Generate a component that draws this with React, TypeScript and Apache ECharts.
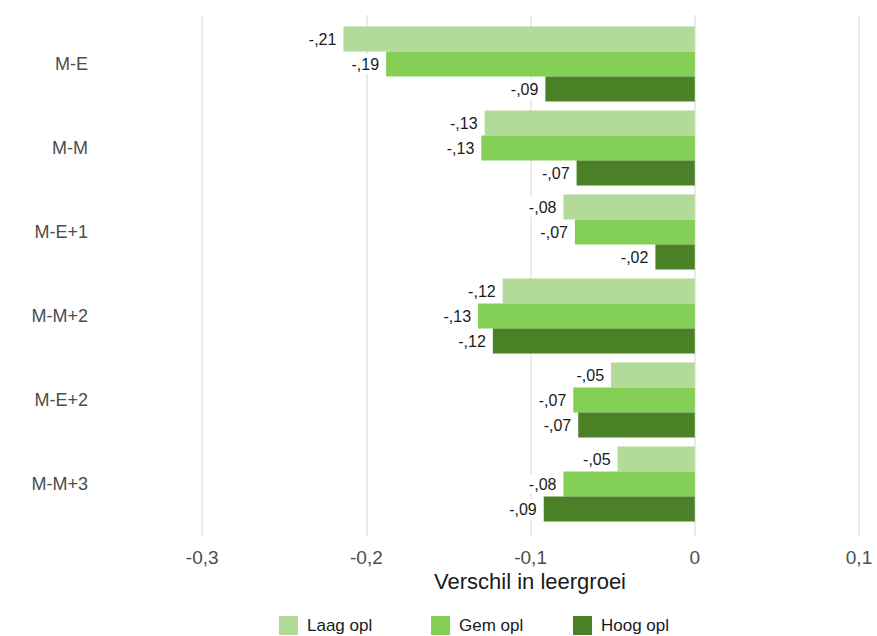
import React, { useEffect, useRef } from "react";
import * as echarts from "echarts";

const categories = ["M-E", "M-M", "M-E+1", "M-M+2", "M-E+2", "M-M+3"];
const seriesNames = ["Laag opl", "Gem opl", "Hoog opl"];
const laag = [-0.214, -0.128, -0.08, -0.117, -0.051, -0.047];
const gem = [-0.188, -0.13, -0.073, -0.132, -0.074, -0.08];
const hoog = [-0.091, -0.072, -0.024, -0.123, -0.071, -0.092];
const colors = ["#b2da98", "#84cf56", "#4a8126"];
const xMin = -0.4;
const xMax = 0.1;
const xStep = 0.1;

const FONT = "Liberation Sans, Arial, sans-serif";

function fmtTick(v: number) {
  if (Math.abs(v - xMin) < 1e-9) return "";
  if (Math.abs(v) < 1e-9) return "0";
  return String(Math.round(v * 10) / 10).replace(".", ",");
}

function fmtBar(v: number) {
  const s = v.toFixed(2);
  return s.replace("-0.", "-,").replace("0.", ",");
}

export default function App() {
  const ref = useRef<HTMLDivElement>(null);
  useEffect(() => {
    if (!ref.current) return;
    const chart = echarts.init(ref.current, undefined, { renderer: "svg" });
    const data = [laag, gem, hoog];
    const left = 38;
    const right = 18;
    const legendLefts = [274, 426, 568];
    chart.setOption({
      animation: false,
      backgroundColor: "#ffffff",
      textStyle: { fontFamily: FONT },
      grid: [
        { left, right, top: 15, height: 521 },
        { left, right, top: 22, height: 504 },
      ],
      xAxis: [
        {
          gridIndex: 0,
          type: "value",
          min: xMin,
          max: xMax,
          interval: xStep,
          axisLine: { show: false },
          axisTick: { show: false },
          axisLabel: {
            formatter: fmtTick,
            fontSize: 19,
            color: "#4d4d4d",
            margin: 12,
            fontFamily: FONT,
          },
          splitLine: {
            show: true,
            lineStyle: {
              color: ["rgba(0,0,0,0)", "#e6e6e6", "#e6e6e6", "#e6e6e6", "#e6e6e6", "#e6e6e6"],
              width: 1.6,
            },
          },
        },
        {
          gridIndex: 1,
          type: "value",
          min: xMin,
          max: xMax,
          interval: xStep,
          show: false,
          splitLine: { show: false },
        },
      ],
      yAxis: [
        {
          gridIndex: 0,
          type: "value",
          min: 0,
          max: 1,
          show: false,
          splitLine: { show: false },
        },
        {
          gridIndex: 1,
          type: "category",
          data: categories,
          inverse: true,
          axisLine: { show: false },
          axisTick: { show: false },
          axisLabel: {
            fontSize: 18,
            color: "#4d4d4d",
            margin: -50,
            fontFamily: FONT,
          },
          splitLine: { show: false },
        },
      ],
      legend: seriesNames.map((name, i) => ({
        data: [name],
        left: legendLefts[i],
        top: 611,
        itemWidth: 19,
        itemHeight: 19,
        icon: "rect",
        textStyle: { fontSize: 17, color: "#1a1a1a", fontFamily: FONT, padding: [0, 0, 0, 4] },
      })),
      graphic: [
        {
          type: "text",
          x: 530,
          y: 581,
          style: {
            text: "Verschil in leergroei",
            fontSize: 22,
            fill: "#1a1a1a",
            fontFamily: FONT,
            align: "center",
            verticalAlign: "middle",
          },
        },
      ],
      series: seriesNames.map((name, i) => ({
        name,
        type: "bar",
        xAxisIndex: 1,
        yAxisIndex: 1,
        data: data[i],
        barWidth: 25,
        barGap: "0%",
        itemStyle: { color: colors[i] },
        label: {
          show: true,
          position: "left",
          distance: 5,
          formatter: (p: any) => fmtBar(p.value),
          fontSize: 16,
          color: "#1a1a1a",
          backgroundColor: "#ffffff",
          padding: [2, 2],
          fontFamily: FONT,
        },
      })),
    });
    return () => chart.dispose();
  }, []);
  return <div ref={ref} style={{ width: 877, height: 636, position: "absolute", left: 0, top: 0 }} />;
}
